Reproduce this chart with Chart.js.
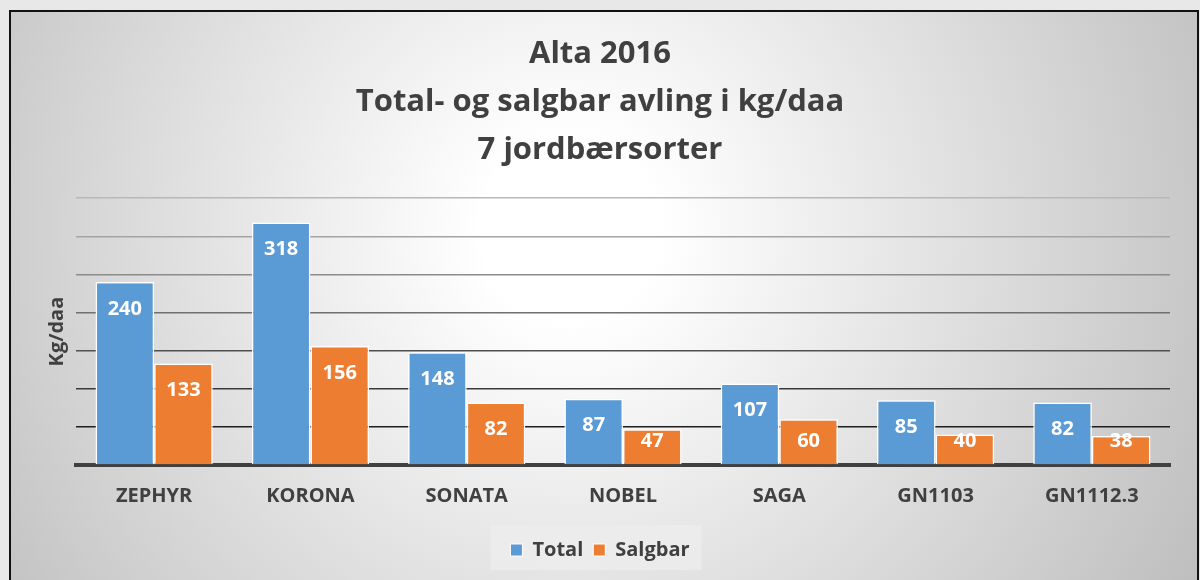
<!DOCTYPE html>
<html>
<head>
<meta charset="utf-8">
<script src="https://cdn.jsdelivr.net/npm/chart.js@4.4.1/dist/chart.umd.min.js"></script>
<style>
  html, body { margin: 0; padding: 0; background: #e8e8e8; }
  #wrap { position: relative; width: 1200px; height: 580px; }
</style>
</head>
<body>
<div id="wrap"><canvas id="avlingChart"></canvas></div>
<script>
const sorter = ['ZEPHYR', 'KORONA', 'SONATA', 'NOBEL', 'SAGA', 'GN1103', 'GN1112.3'];
const total = [240, 318, 148, 87, 107, 85, 82];
const salgbar = [133, 156, 82, 47, 60, 40, 38];
const titleLines = ['Alta 2016', 'Total- og salgbar avling i kg/daa', '7 jordbærsorter'];

const textColor = '#404040';
const fontFamily = '"Open Sans", Lato, sans-serif';

// background, frame and legend box
const backgroundPlugin = {
    id: 'background',
    beforeDraw(chart) {
        const ctx = chart.ctx;
        ctx.save();
        ctx.fillStyle = '#e8e8e8';
        ctx.fillRect(0, 0, chart.width, chart.height);
        const grad = ctx.createRadialGradient(570, 230, 0, 570, 230, 740);
        grad.addColorStop(0, '#ffffff');
        grad.addColorStop(0.12, '#ffffff');
        grad.addColorStop(1, '#bcbcbc');
        ctx.fillStyle = grad;
        ctx.fillRect(10, 11, 1188, 580);
        ctx.strokeStyle = '#111111';
        ctx.lineWidth = 2;
        ctx.strokeRect(10, 11, 1188, 600);

        const legend = chart.legend;
        if (legend && legend.legendHitBoxes && legend.legendHitBoxes.length) {
            const boxes = legend.legendHitBoxes;
            const left = Math.min(...boxes.map(b => b.left)) - 20;
            const right = Math.max(...boxes.map(b => b.left + b.width)) + 12;
            ctx.fillStyle = 'rgba(236, 236, 236, 0.85)';
            ctx.fillRect(left, 525, right - left, 45);
        }
        ctx.restore();
    }
};

// white value labels near the top of each bar
const valueLabels = {
    id: 'valueLabels',
    afterDatasetsDraw(chart) {
        const ctx = chart.ctx;
        ctx.save();
        ctx.font = 'bold 20px ' + fontFamily;
        ctx.fillStyle = '#ffffff';
        ctx.textAlign = 'center';
        ctx.textBaseline = 'middle';
        chart.data.datasets.forEach((ds, i) => {
            chart.getDatasetMeta(i).data.forEach((bar, j) => {
                const y = Math.min(bar.y + 27, bar.base - 23);
                ctx.fillText(ds.data[j], bar.x, y);
            });
        });
        ctx.restore();
    }
};

const gridColors = {
    0: 'rgba(0,0,0,0)',
    50: '#1e1e1e',
    100: '#3a3a3a',
    150: '#505050',
    200: '#707070',
    250: '#8c8c8c',
    300: '#a4a4a4',
    350: '#b8b8b8'
};

const ctx = document.getElementById('avlingChart').getContext('2d');
new Chart(ctx, {
    type: 'bar',
    data: {
        labels: sorter,
        datasets: [{
            label: 'Total',
            data: total,
            backgroundColor: '#5B9BD5',
            borderColor: '#ffffff',
            borderWidth: 1.5,
            borderSkipped: 'bottom'
        }, {
            label: 'Salgbar',
            data: salgbar,
            backgroundColor: '#ED7D31',
            borderColor: '#ffffff',
            borderWidth: 1.5,
            borderSkipped: 'bottom'
        }]
    },
    options: {
        responsive: true,
        maintainAspectRatio: false,
        animation: false,
        layout: {
            padding: { left: 30, right: 30, top: 20, bottom: 10 }
        },
        datasets: {
            bar: { categoryPercentage: 0.75, barPercentage: 1 }
        },
        scales: {
            y: {
                min: 0,
                max: 350,
                ticks: { display: false, stepSize: 50 },
                border: { display: false },
                grid: {
                    drawTicks: false,
                    lineWidth: 1.5,
                    color: c => gridColors[c.tick.value] || '#888888'
                },
                title: {
                    display: true,
                    text: 'Kg/daa',
                    color: textColor,
                    font: { family: fontFamily, size: 20, weight: 'bold' },
                    padding: { top: 15, bottom: 0 }
                },
                afterFit: s => { s.width = 46; }
            },
            x: {
                grid: { display: false, drawTicks: false },
                border: { display: true, color: '#404040', width: 4 },
                ticks: {
                    color: textColor,
                    padding: 19,
                    font: { family: fontFamily, size: 20, weight: 'bold' }
                },
                afterFit: s => { s.height = 65; }
            }
        },
        plugins: {
            title: {
                display: true,
                text: titleLines,
                color: textColor,
                font: { family: fontFamily, size: 31, weight: 'bold', lineHeight: 1.55 },
                padding: { top: 10, bottom: 24 }
            },
            legend: {
                position: 'bottom',
                labels: {
                    color: textColor,
                    boxWidth: 12,
                    boxHeight: 12,
                    padding: 10,
                    font: { family: fontFamily, size: 20, weight: 'bold' },
                    generateLabels: chart => chart.data.datasets.map((ds, i) => ({
                        text: ds.label,
                        fillStyle: ds.backgroundColor,
                        strokeStyle: '#ffffff',
                        lineWidth: 1,
                        fontColor: textColor,
                        datasetIndex: i
                    }))
                }
            },
            tooltip: { enabled: false }
        }
    },
    plugins: [backgroundPlugin, valueLabels]
});
</script>
</body>
</html>
